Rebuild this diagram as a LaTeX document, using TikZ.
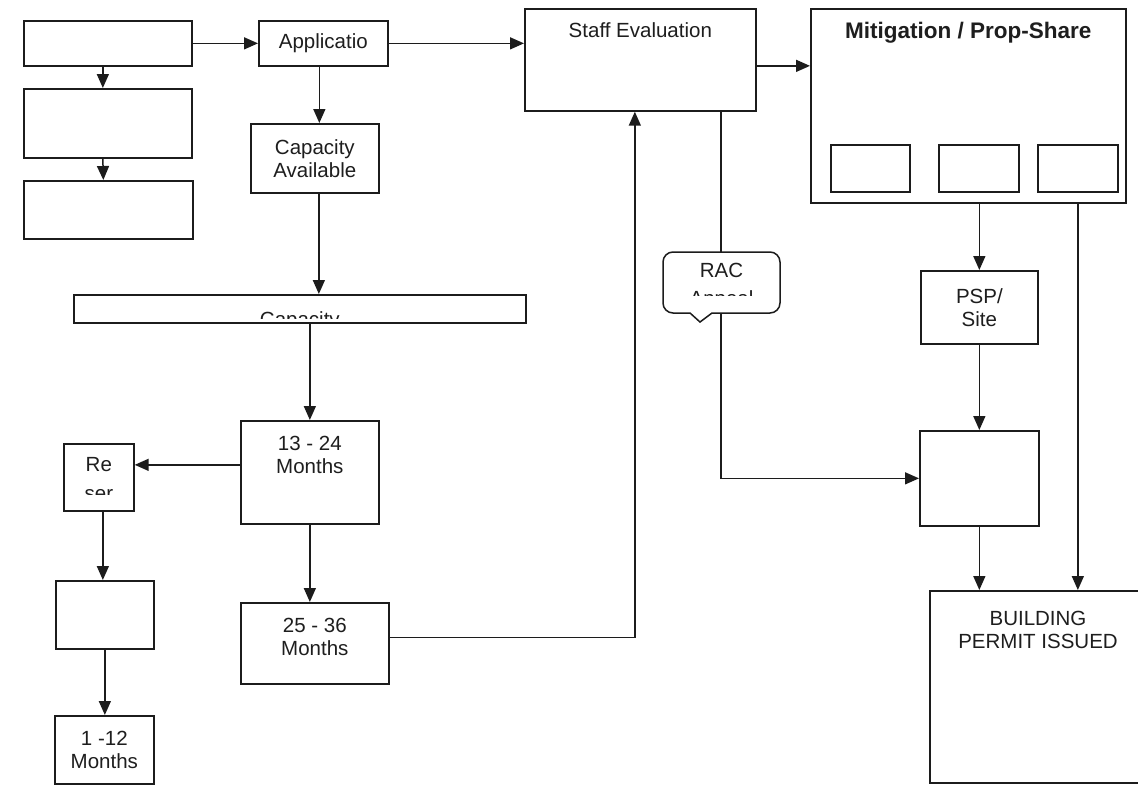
\documentclass[tikz,border=0pt]{standalone}
\usepackage{fontspec}
\setmainfont{Liberation Sans}
\usepackage{xcolor}
\usepackage{tikz}
\usetikzlibrary{arrows.meta,positioning}
\definecolor{flInk}{HTML}{1C1C1C}
\definecolor{flText}{HTML}{1E1E1E}
\tikzset{
  fbox/.style={rectangle,draw=flInk,line width=1.7pt,fill=white,
    inner sep=0pt,anchor=north west},
  ftxt/.style={inner sep=0pt,align=center,text=flText,
    font=\fontsize{20.5}{23}\selectfont},
  fhead/.style={inner sep=0pt,align=center,text=flText,
    font=\fontsize{22.5}{25}\selectfont\bfseries},
  arr/.style={-{Triangle[length=14pt,width=12pt]},line width=1.5pt,color=flInk},
}
\begin{document}
\begin{tikzpicture}[x=1pt,y=-1pt]

  \useasboundingbox (0,0) rectangle (1138,785);
  \clip (0,0) rectangle (1138,785);

  % left column
  \node[fbox,minimum width=168pt,minimum height=45pt] (pre1) at (23,20) {};
  \node[fbox,minimum width=168pt,minimum height=69pt] (pre2) at (23,88) {};
  \node[fbox,minimum width=169pt,minimum height=58pt] (pre3) at (23,180) {};

  \node[fbox,minimum width=129pt,minimum height=45pt] (app) at (258,20) {};
  \node[ftxt] (apptxt) at (app.center) {Applicatio};

  \node[fbox,minimum width=128pt,minimum height=69pt] (capav) at (250,123) {};
  \node[ftxt] (capavtxt) at (capav.center) {Capacity\\Available};

  \node[fbox,minimum width=452pt,minimum height=28pt] (capw) at (73,294) {};
  \begin{scope}
    \clip (73,294) rectangle (525,318.5);
    \node[ftxt,below=17pt of capw.north] (capwtxt) {Capacity};
  \end{scope}

  \node[fbox,minimum width=138pt,minimum height=103pt] (m13) at (240,420) {};
  \node[ftxt,below=15.5pt of m13.north] (m13txt) {13 - 24\\Months};

  \node[fbox,minimum width=148pt,minimum height=81pt] (m25) at (240,602) {};
  \node[ftxt,below=15.5pt of m25.north] (m25txt) {25 - 36\\Months};

  \node[fbox,minimum width=70pt,minimum height=67pt] (res) at (63,443) {};
  \begin{scope}
    \clip (63,443) rectangle (133,494);
    \node[ftxt,below=14.5pt of res.north] (restxt) {Re\\[6pt]ser};
  \end{scope}

  \node[fbox,minimum width=98pt,minimum height=68pt] (wait) at (55,580) {};

  \node[fbox,minimum width=99pt,minimum height=68pt] (m1) at (54,715) {};
  \node[ftxt] (m1txt) at (m1.center) {1 -12\\Months};

  % middle and right
  \node[fbox,minimum width=231pt,minimum height=102pt] (staff) at (524,8) {};
  \node[ftxt,below=14.5pt of staff.north] (stafftxt) {Staff Evaluation};

  \node[fbox,minimum width=315pt,minimum height=194pt] (mit) at (810,8) {};
  \node[fhead,below=14pt of mit.north] (mittxt) {Mitigation / Prop-Share};
  \node[fbox,minimum width=79pt,minimum height=47pt] (mitA) at (830,144) {};
  \node[fbox,minimum width=80pt,minimum height=47pt] (mitB) at (938,144) {};
  \node[fbox,minimum width=80pt,minimum height=47pt] (mitC) at (1037,144) {};

  \node[fbox,minimum width=117pt,minimum height=73pt] (psp) at (920,270) {};
  \node[ftxt] (psptxt) at (psp.center) {PSP/\\Site};

  \node[fbox,minimum width=119pt,minimum height=95pt] (cond) at (919,430) {};

  \node[fbox,minimum width=230pt,minimum height=192pt] (bp) at (929,590) {};
  \node[ftxt] (bptxt) at (1038,630) {BUILDING\\PERMIT ISSUED};

  % connectors
  \draw[arr] ([xshift=-5pt]pre1.south) -- ([xshift=-5pt]pre2.north);
  \draw[arr] ([xshift=-5pt]pre2.south) -- ([xshift=-5pt]pre3.north);
  \draw[arr] (pre1.east) -- (app.west);
  \draw[arr] ([xshift=-4pt]app.south) -- ([xshift=-4pt]app.south |- capav.north);
  \draw[arr] ([xshift=4pt]capav.south) -- ([xshift=4pt]capav.south |- capw.north);
  \draw[arr] (m13.north |- capw.south) -- (m13.north);
  \draw[arr] ([yshift=7.5pt]m13.west) -- ([yshift=7.5pt]m13.west -| res.east);
  \draw[arr] ([xshift=4pt]res.south) -- ([xshift=4pt]res.south |- wait.north);
  \draw[arr] (wait.south) -- (wait.south |- m1.north);
  \draw[arr] (m13.south) -- (m13.south |- m25.north);
  \draw[arr] ([yshift=6pt]m25.east) -| ([xshift=-5.5pt]staff.south);
  \draw[arr] (app.east) -- (app.east -| staff.west);
  \draw[arr] ([yshift=-6pt]staff.east) -- ([yshift=-6pt]staff.east -| mit.west);
  \draw[arr] ([xshift=80.5pt]staff.south) |- (cond.west);
  \draw[arr] (psp.north |- mit.south) -- (psp.north);
  \draw[arr] (psp.south) -- (psp.south |- cond.north);
  \draw[arr] (cond.south) -- (cond.south |- bp.north);
  \draw[arr] ([xshift=109.5pt]mit.south) -- ([xshift=109.5pt]mit.south |- bp.north);

  % appeal callout, drawn over the line
  \coordinate (racTop) at (721.5,252);
  \draw[draw=flInk,line width=1.5pt,fill=white]
    (690,313) [rounded corners=10pt] -- (663,313) -- (663,252) -- (780,252)
    -- (780,313) [sharp corners] -- (712,313) -- (700,322) -- cycle;
  \begin{scope}
    \clip (663,252) rectangle (780,295);
    \node[ftxt,below=11pt of racTop] (ractxt) {RAC\\[4.5pt]Appeal};
  \end{scope}

\end{tikzpicture}
\end{document}
